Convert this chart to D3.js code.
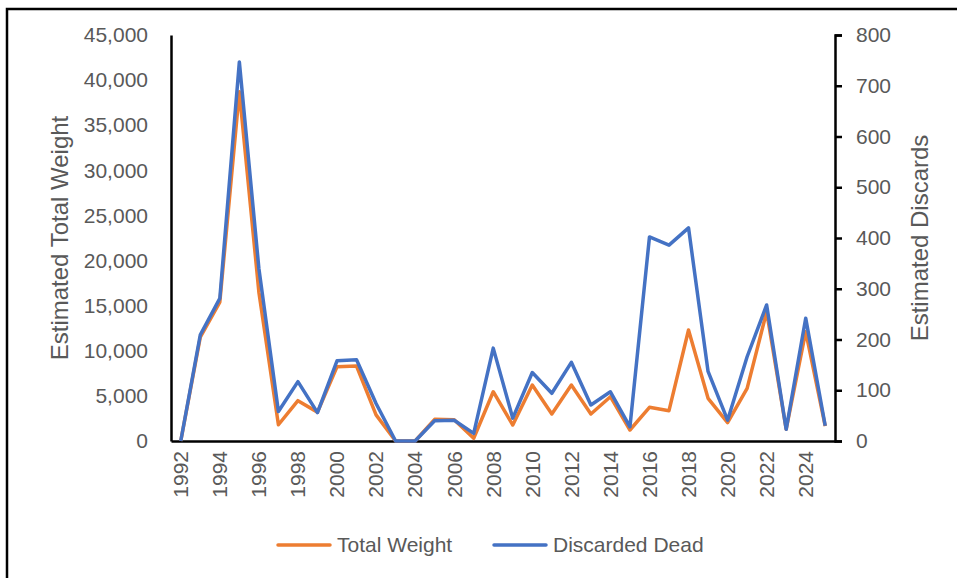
<!DOCTYPE html>
<html>
<head>
<meta charset="utf-8">
<style>
body { margin: 0; background: #fff; }
text { font-family: "Liberation Sans", Arial, sans-serif; fill: #595959; }
</style>
</head>
<body>
<script src="https://cdn.jsdelivr.net/npm/d3@7"></script>
<script>

// data
var years = d3.range(1992, 2026);
var totalWeight = [0, 11500, 15400, 38700, 16500, 1800, 4470, 3200, 8230, 8310,
                   2900, 0, 0, 2400, 2350, 300, 5460, 1770, 6200, 2990,
                   6200, 2990, 4910, 1220, 3730, 3360, 12300, 4730, 2030, 5840,
                   14330, 1300, 12110, 1660];
var discardedDead = [0, 209, 281, 747, 340, 58, 117, 56, 158, 160,
                     74, 0, 0, 40, 41, 15, 183, 45, 135, 94,
                     155, 71, 97, 28, 402, 386, 420, 137, 41, 166,
                     268, 23, 242, 30];
var leftTicks = d3.range(0, 45001, 5000);
var rightTicks = d3.range(0, 801, 100);
var xLabels = years.filter(y => y % 2 == 0);

var W = 957, H = 578;
var margin = {top: 35, right: 122, bottom: 137, left: 171}
	, width = W - margin.left - margin.right
	, height = H - margin.top - margin.bottom;

var orange = "#ED7D31", blue = "#4472C4";

var svg = d3.select("body").append("svg")
	.attr("width", W)
	.attr("height", H);

// outer frame (left + top edges visible)
svg.append("path")
	.attr("d", "M7," + H + "V9H" + W)
	.attr("fill", "none")
	.attr("stroke", "#000")
	.attr("stroke-width", 2.5);

var g = svg.append("g")
	.attr("transform", "translate(" + margin.left + "," + margin.top + ")");

var xScale = d3.scaleBand()
	.domain(years)
	.range([0, width])
	.padding(0);

var yLeft = d3.scaleLinear()
	.domain([0, 45000])
	.range([height, 0]);

var yRight = d3.scaleLinear()
	.domain([0, 800])
	.range([height, 0]);

var cx = d => xScale(d) + xScale.bandwidth() / 2;

// left axis
var leftAxis = g.append("g")
	.call(d3.axisLeft(yLeft).tickValues(leftTicks).tickSize(0).tickPadding(23)
		.tickFormat(d3.format(",")));
leftAxis.select(".domain").attr("stroke", "#000").attr("stroke-width", 2.5);
leftAxis.selectAll("text").attr("font-size", 21).attr("fill", "#595959")
	.attr("font-family", "Liberation Sans, Arial, sans-serif");

// right axis
var rightAxis = g.append("g")
	.attr("transform", "translate(" + width + ",0)")
	.call(d3.axisRight(yRight).tickValues(rightTicks).tickSize(7).tickSizeOuter(7).tickPadding(14));
rightAxis.select(".domain").attr("stroke", "#000").attr("stroke-width", 2.5);
rightAxis.selectAll("line").attr("stroke", "#000").attr("stroke-width", 2.5);
rightAxis.selectAll("text").attr("font-size", 21).attr("fill", "#595959")
	.attr("font-family", "Liberation Sans, Arial, sans-serif");

// x axis
var xAxis = g.append("g")
	.attr("transform", "translate(0," + height + ")")
	.call(d3.axisBottom(xScale).tickValues(xLabels).tickSize(0));
xAxis.select(".domain").attr("stroke", "#000").attr("stroke-width", 2.5);
xAxis.selectAll("text")
	.attr("font-size", 21)
	.attr("fill", "#595959")
	.attr("font-family", "Liberation Sans, Arial, sans-serif")
	.attr("x", -10)
	.attr("y", 0)
	.attr("dy", "0.35em")
	.attr("transform", "rotate(-90)")
	.style("text-anchor", "end");

// lines
var lineLeft = d3.line()
	.x((d, i) => cx(years[i]))
	.y(d => yLeft(d));
var lineRight = d3.line()
	.x((d, i) => cx(years[i]))
	.y(d => yRight(d));

g.append("path")
	.datum(totalWeight)
	.attr("fill", "none")
	.attr("stroke", orange)
	.attr("stroke-width", 3.5)
	.attr("stroke-linejoin", "round")
	.attr("d", lineLeft);

g.append("path")
	.datum(discardedDead)
	.attr("fill", "none")
	.attr("stroke", blue)
	.attr("stroke-width", 3.5)
	.attr("stroke-linejoin", "round")
	.attr("d", lineRight);

// axis titles
svg.append("text")
	.attr("transform", "translate(68," + (margin.top + height / 2) + ") rotate(-90)")
	.attr("text-anchor", "middle")
	.attr("font-size", 24)
	.text("Estimated Total Weight");

svg.append("text")
	.attr("transform", "translate(928," + (margin.top + height / 2) + ") rotate(-90)")
	.attr("text-anchor", "middle")
	.attr("font-size", 24)
	.text("Estimated Discards");

// legend
var legend = [{name: "Total Weight", color: orange, x: 278},
              {name: "Discarded Dead", color: blue, x: 494}];
var lg = svg.append("g").selectAll("g")
	.data(legend)
	.enter().append("g")
	.attr("transform", d => "translate(" + d.x + ",545)");
lg.append("line")
	.attr("x1", 0).attr("x2", 52)
	.attr("stroke", d => d.color)
	.attr("stroke-width", 3.5)
	.attr("stroke-linecap", "round");
lg.append("text")
	.attr("x", 59)
	.attr("dy", "0.35em")
	.attr("font-size", 21)
	.text(d => d.name);

</script>
</body>
</html>
